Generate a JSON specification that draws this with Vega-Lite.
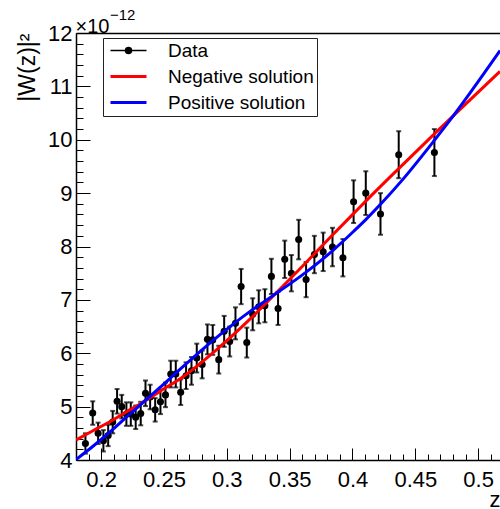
{
  "$schema": "https://vega.github.io/schema/vega-lite/v6.json",
  "width": 424,
  "height": 427,
  "autosize": {"type": "none"},
  "padding": {"left": 76, "top": 33, "right": 0, "bottom": 49},
  "config": {
    "font": "Liberation Sans",
    "view": {"stroke": null},
    "axis": {"grid": false}
  },
  "title": {
    "text": "−12",
    "anchor": "start",
    "frame": "group",
    "fontSize": 15,
    "fontWeight": "normal",
    "font": "Liberation Sans",
    "color": "black",
    "baseline": "alphabetic",
    "offset": 0,
    "dx": 34,
    "dy": 19
  },
  "datasets": {
    "points": [
      {"series": "Data", "z": 0.1875, "w": 4.31, "err": 0.19},
      {"series": "Data", "z": 0.1933, "w": 4.88, "err": 0.22},
      {"series": "Data", "z": 0.1976, "w": 4.50, "err": 0.20},
      {"series": "Data", "z": 0.2018, "w": 4.36, "err": 0.20},
      {"series": "Data", "z": 0.2056, "w": 4.46, "err": 0.20},
      {"series": "Data", "z": 0.2092, "w": 4.71, "err": 0.21},
      {"series": "Data", "z": 0.2127, "w": 5.10, "err": 0.23},
      {"series": "Data", "z": 0.2164, "w": 5.00, "err": 0.22},
      {"series": "Data", "z": 0.2201, "w": 4.86, "err": 0.22},
      {"series": "Data", "z": 0.2236, "w": 4.86, "err": 0.22},
      {"series": "Data", "z": 0.2275, "w": 4.80, "err": 0.22},
      {"series": "Data", "z": 0.2315, "w": 4.87, "err": 0.22},
      {"series": "Data", "z": 0.2353, "w": 5.25, "err": 0.24},
      {"series": "Data", "z": 0.2390, "w": 5.18, "err": 0.23},
      {"series": "Data", "z": 0.2430, "w": 4.94, "err": 0.22},
      {"series": "Data", "z": 0.2472, "w": 5.09, "err": 0.23},
      {"series": "Data", "z": 0.2512, "w": 5.22, "err": 0.23},
      {"series": "Data", "z": 0.2554, "w": 5.61, "err": 0.25},
      {"series": "Data", "z": 0.2594, "w": 5.61, "err": 0.25},
      {"series": "Data", "z": 0.2633, "w": 5.27, "err": 0.24},
      {"series": "Data", "z": 0.2676, "w": 5.58, "err": 0.25},
      {"series": "Data", "z": 0.2719, "w": 5.67, "err": 0.26},
      {"series": "Data", "z": 0.2761, "w": 5.91, "err": 0.27},
      {"series": "Data", "z": 0.2804, "w": 5.79, "err": 0.26},
      {"series": "Data", "z": 0.2846, "w": 6.26, "err": 0.28},
      {"series": "Data", "z": 0.2888, "w": 6.25, "err": 0.28},
      {"series": "Data", "z": 0.2936, "w": 5.88, "err": 0.26},
      {"series": "Data", "z": 0.2979, "w": 6.41, "err": 0.29},
      {"series": "Data", "z": 0.3023, "w": 6.22, "err": 0.28},
      {"series": "Data", "z": 0.3069, "w": 6.56, "err": 0.30},
      {"series": "Data", "z": 0.3114, "w": 7.25, "err": 0.33},
      {"series": "Data", "z": 0.3159, "w": 6.20, "err": 0.28},
      {"series": "Data", "z": 0.3206, "w": 6.73, "err": 0.30},
      {"series": "Data", "z": 0.3254, "w": 6.87, "err": 0.31},
      {"series": "Data", "z": 0.3303, "w": 6.89, "err": 0.31},
      {"series": "Data", "z": 0.3355, "w": 7.44, "err": 0.33},
      {"series": "Data", "z": 0.3408, "w": 6.84, "err": 0.31},
      {"series": "Data", "z": 0.3461, "w": 7.76, "err": 0.35},
      {"series": "Data", "z": 0.3514, "w": 7.50, "err": 0.34},
      {"series": "Data", "z": 0.3572, "w": 8.13, "err": 0.37},
      {"series": "Data", "z": 0.3631, "w": 7.38, "err": 0.33},
      {"series": "Data", "z": 0.3697, "w": 7.85, "err": 0.35},
      {"series": "Data", "z": 0.3767, "w": 7.90, "err": 0.36},
      {"series": "Data", "z": 0.3841, "w": 7.99, "err": 0.36},
      {"series": "Data", "z": 0.3924, "w": 7.79, "err": 0.35},
      {"series": "Data", "z": 0.4009, "w": 8.84, "err": 0.40},
      {"series": "Data", "z": 0.4106, "w": 9.00, "err": 0.41},
      {"series": "Data", "z": 0.4223, "w": 8.61, "err": 0.39},
      {"series": "Data", "z": 0.4368, "w": 9.72, "err": 0.44},
      {"series": "Data", "z": 0.4652, "w": 9.76, "err": 0.44}
    ],
    "fits": [
      {"series": "Negative solution", "z": 0.18, "w": 4.375},
      {"series": "Negative solution", "z": 0.1931, "w": 4.544},
      {"series": "Negative solution", "z": 0.2066, "w": 4.713},
      {"series": "Negative solution", "z": 0.2199, "w": 4.90},
      {"series": "Negative solution", "z": 0.2329, "w": 5.078},
      {"series": "Negative solution", "z": 0.2464, "w": 5.281},
      {"series": "Negative solution", "z": 0.2649, "w": 5.556},
      {"series": "Negative solution", "z": 0.2915, "w": 6.06},
      {"series": "Negative solution", "z": 0.3180, "w": 6.63},
      {"series": "Negative solution", "z": 0.3355, "w": 7.04},
      {"series": "Negative solution", "z": 0.3631, "w": 7.70},
      {"series": "Negative solution", "z": 0.3843, "w": 8.22},
      {"series": "Negative solution", "z": 0.4010, "w": 8.62},
      {"series": "Negative solution", "z": 0.4106, "w": 8.85},
      {"series": "Negative solution", "z": 0.4368, "w": 9.46},
      {"series": "Negative solution", "z": 0.4652, "w": 10.11},
      {"series": "Negative solution", "z": 0.4758, "w": 10.35},
      {"series": "Negative solution", "z": 0.5174, "w": 11.28},
      {"series": "Positive solution", "z": 0.18, "w": 4.009},
      {"series": "Positive solution", "z": 0.1933, "w": 4.253},
      {"series": "Positive solution", "z": 0.2066, "w": 4.516},
      {"series": "Positive solution", "z": 0.2199, "w": 4.797},
      {"series": "Positive solution", "z": 0.2329, "w": 5.069},
      {"series": "Positive solution", "z": 0.2464, "w": 5.35},
      {"series": "Positive solution", "z": 0.2649, "w": 5.744},
      {"series": "Positive solution", "z": 0.2915, "w": 6.288},
      {"series": "Positive solution", "z": 0.3180, "w": 6.775},
      {"series": "Positive solution", "z": 0.3355, "w": 7.06},
      {"series": "Positive solution", "z": 0.3631, "w": 7.52},
      {"series": "Positive solution", "z": 0.3843, "w": 7.924},
      {"series": "Positive solution", "z": 0.4010, "w": 8.286},
      {"series": "Positive solution", "z": 0.4106, "w": 8.504},
      {"series": "Positive solution", "z": 0.4223, "w": 8.79},
      {"series": "Positive solution", "z": 0.4387, "w": 9.22},
      {"series": "Positive solution", "z": 0.4652, "w": 9.99},
      {"series": "Positive solution", "z": 0.4758, "w": 10.31},
      {"series": "Positive solution", "z": 0.5174, "w": 11.67}
    ]
  },
  "encoding": {
    "y": {
      "field": "w",
      "type": "quantitative",
      "scale": {"domain": [4, 12], "nice": false, "zero": false},
      "axis": {
        "values": [4, 4.2, 4.4, 4.6, 4.8, 5, 5.2, 5.4, 5.6, 5.8, 6, 6.2, 6.4, 6.6, 6.8, 7, 7.2, 7.4, 7.6, 7.8, 8, 8.2, 8.4, 8.6, 8.8, 9, 9.2, 9.4, 9.6, 9.8, 10, 10.2, 10.4, 10.6, 10.8, 11, 11.2, 11.4, 11.6, 11.8, 12],
        "tickSize": {"condition": {"test": "abs(datum.value - round(datum.value)) < 0.001", "value": -14}, "value": -7},
        "labelExpr": "abs(datum.value - round(datum.value)) < 0.001 ? toString(round(datum.value)) : ''",
        "labelPadding": 18,
        "labelFontSize": 22,
        "labelFont": "Liberation Sans",
        "labelColor": "black",
        "labelOverlap": false,
        "labelFlush": false,
        "labelBound": false,
        "tickColor": "black",
        "tickWidth": 1,
        "domainColor": "black",
        "domainWidth": 1.5,
        "grid": false,
        "title": "|W(z)|²",
        "titleFont": "Liberation Sans",
        "titleFontSize": 23,
        "titleFontWeight": "normal",
        "titleColor": "black",
        "titleAnchor": "end",
        "titleAngle": -90,
        "titleAlign": "right",
        "titleBaseline": "bottom",
        "titleX": -37,
        "titleY": 0
      }
    },
    "color": {
      "field": "series",
      "type": "nominal",
      "scale": {"domain": ["Data", "Negative solution", "Positive solution"], "range": ["#000000", "#ff0000", "#0000ff"]},
      "legend": {
        "orient": "none",
        "legendX": 27,
        "legendY": 5,
        "title": null,
        "fillColor": "white",
        "strokeColor": "#222222",
        "padding": 3,
        "rowPadding": 6,
        "symbolSize": 400,
        "symbolOffset": 13,
        "labelOffset": 30,
        "labelFontSize": 19,
        "labelFont": "Liberation Sans",
        "labelColor": "black",
        "labelExpr": "datum.label + '  '",
        "encode": {
          "symbols": {
            "update": {
              "shape": {"signal": "datum.value === 'Data' ? 'M-1.8,0H1.8M-0.3,0A0.3,0.3,0,1,1,0.3,0A0.3,0.3,0,1,1,-0.3,0Z' : 'M-1.8,0H1.8'"},
              "fill": {"signal": "datum.value === 'Data' ? '#000000' : 'transparent'"},
              "stroke": {"signal": "datum.value === 'Data' ? '#000000' : (datum.value === 'Negative solution' ? '#ff0000' : '#0000ff')"},
              "strokeWidth": {"signal": "datum.value === 'Data' ? 1.5 : 3"},
              "opacity": {"value": 1},
              "fillOpacity": {"value": 1},
              "strokeOpacity": {"value": 1}
            }
          }
        }
      }
    }
  },
  "layer": [
    {
      "data": {"name": "points"},
      "mark": {"type": "errorbar", "ticks": {"size": 5}, "thickness": 2, "clip": true},
      "encoding": {
        "x": {
          "field": "z",
          "type": "quantitative",
          "scale": {"domain": [0.18, 0.5174], "nice": false, "zero": false},
          "axis": {
            "values": [0.18, 0.19, 0.2, 0.21, 0.22, 0.23, 0.24, 0.25, 0.26, 0.27, 0.28, 0.29, 0.3, 0.31, 0.32, 0.33, 0.34, 0.35, 0.36, 0.37, 0.38, 0.39, 0.4, 0.41, 0.42, 0.43, 0.44, 0.45, 0.46, 0.47, 0.48, 0.49, 0.5, 0.51],
            "tickSize": {"condition": {"test": "abs(datum.value*20 - round(datum.value*20)) < 0.001", "value": -12}, "value": -6},
            "labelExpr": "abs(datum.value*20 - round(datum.value*20)) < 0.001 ? format(datum.value, '~g') : ''",
            "labelPadding": 21,
            "labelFontSize": 22,
            "labelFont": "Liberation Sans",
            "labelColor": "black",
            "labelOverlap": false,
            "labelFlush": false,
            "labelBound": false,
            "tickColor": "black",
            "tickWidth": 1,
            "domainColor": "black",
            "domainWidth": 1.5,
            "grid": false,
            "title": "z",
            "titleFont": "Liberation Sans",
            "titleFontSize": 22,
            "titleFontWeight": "normal",
            "titleColor": "black",
            "titleAnchor": "end",
            "titleAlign": "right",
            "titleBaseline": "alphabetic",
            "titleX": 424,
            "titleY": 46
          }
        },
        "yError": {"field": "err"}
      }
    },
    {
      "data": {"name": "points"},
      "mark": {"type": "point", "filled": true, "shape": "circle", "size": 50, "opacity": 1, "clip": true},
      "encoding": {
        "x": {"field": "z", "type": "quantitative", "scale": {"domain": [0.18, 0.5174], "nice": false, "zero": false}, "axis": null}
      }
    },
    {
      "data": {"name": "fits"},
      "mark": {"type": "line", "strokeWidth": 3, "interpolate": "monotone", "clip": true},
      "encoding": {
        "x": {
          "field": "z",
          "type": "quantitative",
          "scale": {"domain": [0.18, 0.5174], "nice": false, "zero": false},
          "axis": {
            "orient": "top",
            "ticks": false,
            "labels": false,
            "domain": true,
            "domainColor": "black",
            "domainWidth": 1.5,
            "grid": false,
            "title": "×10",
            "titleFont": "Liberation Sans",
            "titleFontSize": 20,
            "titleFontWeight": "normal",
            "titleColor": "black",
            "titleAnchor": "start",
            "titleAlign": "left",
            "titleBaseline": "alphabetic",
            "titleX": -1,
            "titleY": -1
          }
        }
      }
    }
  ],
  "resolve": {"axis": {"x": "independent"}}
}
